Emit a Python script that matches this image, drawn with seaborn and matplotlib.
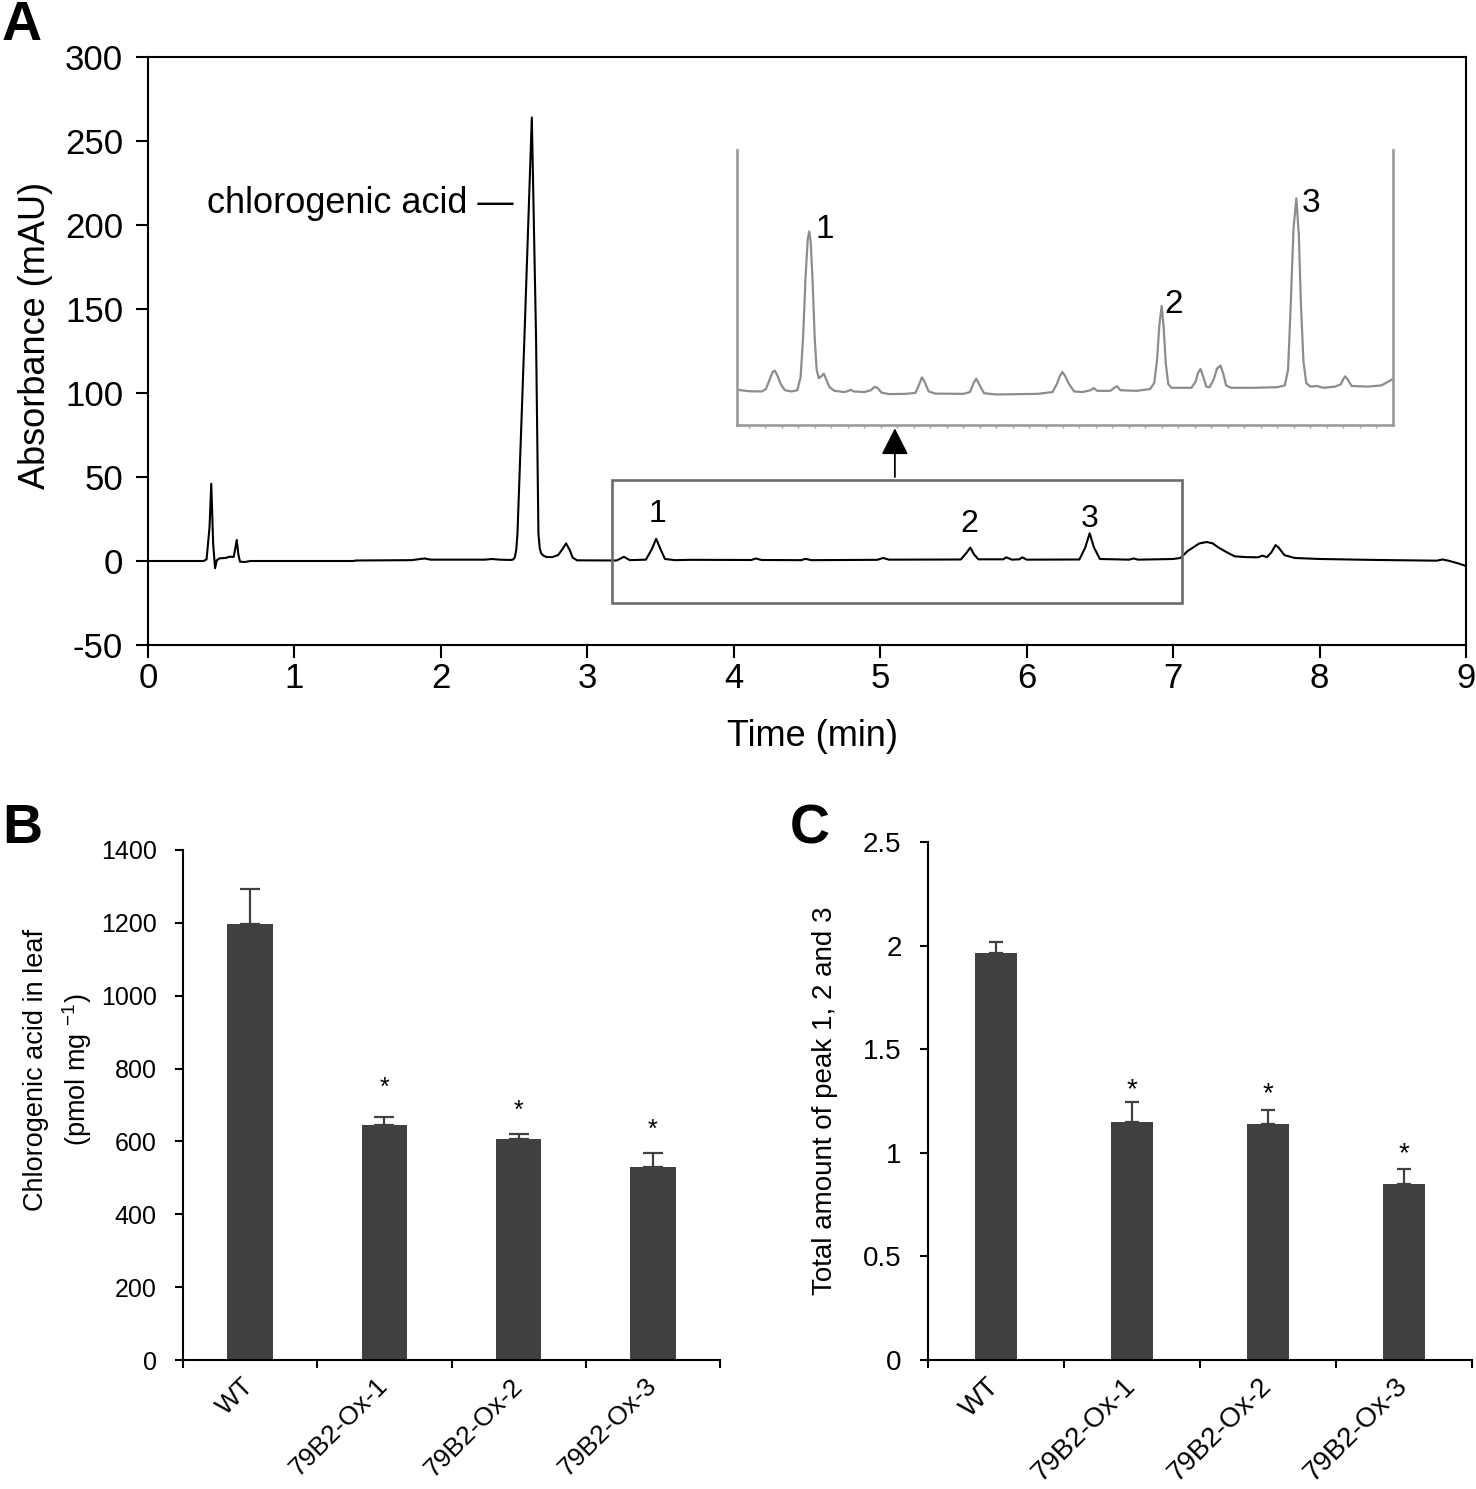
import numpy as np
import matplotlib
matplotlib.use("Agg")
import matplotlib.pyplot as plt
import seaborn as sns
from matplotlib.patches import Rectangle
from matplotlib.ticker import FuncFormatter

# ---------------- data ----------------
# Panel A: HPLC chromatogram (min, mAU)
chrom_time = [0.00, 0.38, 0.40, 0.42, 0.432, 0.445, 0.458, 0.47, 0.49, 0.53, 0.56, 0.585,
              0.597, 0.606, 0.617, 0.628, 0.66, 0.70, 1.40, 1.42, 1.80, 1.86, 1.89, 1.93,
              2.30, 2.35, 2.40, 2.48, 2.495, 2.505, 2.515, 2.523, 2.570, 2.621, 2.650,
              2.666, 2.675, 2.685, 2.70, 2.72, 2.76, 2.80, 2.83, 2.855, 2.88, 2.90, 2.93,
              3.20, 3.25, 3.29, 3.40, 3.44, 3.47, 3.50, 3.53, 3.60, 3.70, 4.12, 4.15, 4.19,
              4.46, 4.49, 4.53, 4.98, 5.02, 5.06, 5.55, 5.59, 5.615, 5.64, 5.67, 5.84, 5.86,
              5.90, 5.95, 5.97, 6.00, 6.36, 6.40, 6.43, 6.46, 6.50, 6.70, 6.73, 6.76, 7.00,
              7.05, 7.10, 7.18, 7.23, 7.27, 7.31, 7.36, 7.42, 7.50, 7.58, 7.61, 7.64,
              7.67, 7.70, 7.72, 7.76, 7.83, 8.00, 8.40, 8.80, 8.84, 8.88, 8.95, 9.00]
chrom_abs = [0.0, 0.0, 1.0, 20.0, 46.0, 10.0, -4.3, 0.5, 1.6, 1.8, 2.6, 2.4,
             8.0, 12.5, 4.0, -0.4, -0.6, 0.0, 0.0, 0.3, 0.5, 1.2, 1.5, 0.8,
             0.8, 1.2, 0.8, 0.6, 1.0, 2.2, 7.0, 16.5, 132.0, 264.0, 132.0,
             16.5, 7.5, 4.5, 3.2, 2.4, 2.3, 3.5, 7.0, 10.5, 6.5, 2.0, 0.4,
             0.3, 2.5, 0.5, 0.8, 7.0, 13.2, 7.0, 1.2, 0.5, 0.7, 0.6, 1.5, 0.6,
             0.5, 1.3, 0.5, 0.7, 1.8, 0.8, 0.9, 5.0, 8.0, 4.0, 1.0, 1.0, 2.2,
             0.8, 1.0, 2.2, 0.8, 0.9, 8.0, 16.5, 8.0, 1.2, 0.8, 1.5, 0.8, 1.2,
             1.8, 6.0, 10.5, 11.3, 10.5, 8.0, 5.5, 2.8, 2.3, 2.2, 3.2, 2.3,
             5.0, 9.5, 8.0, 3.5, 1.8, 1.2, 0.6, 0.2, 0.9, 0.2, -1.5, -3.0]

# Inset: magnified 3.0-7.0 min region (min, mAU)
inset_time = [3.030, 3.100, 3.180, 3.205, 3.225, 3.245, 3.259, 3.275, 3.295, 3.320, 3.360,
              3.395, 3.415, 3.430, 3.445, 3.458, 3.467, 3.476, 3.488, 3.500, 3.512, 3.525,
              3.540, 3.556, 3.570, 3.590, 3.620, 3.680, 3.705, 3.718, 3.735, 3.800, 3.840,
              3.862, 3.880, 3.905, 3.950, 4.050, 4.110, 4.130, 4.149, 4.165, 4.190, 4.230,
              4.400, 4.440, 4.462, 4.478, 4.495, 4.525, 4.600, 4.850, 4.940, 4.965, 4.985,
              4.999, 5.015, 5.040, 5.070, 5.120, 5.170, 5.188, 5.210, 5.290, 5.318, 5.331,
              5.350, 5.450, 5.530, 5.555, 5.572, 5.586, 5.600, 5.612, 5.625, 5.640, 5.660,
              5.780, 5.805, 5.822, 5.835, 5.850, 5.870, 5.890, 5.915, 5.935, 5.956, 5.972,
              5.990, 6.020, 6.150, 6.300, 6.345, 6.365, 6.382, 6.398, 6.415, 6.430, 6.442,
              6.458, 6.475, 6.500, 6.540, 6.580, 6.650, 6.685, 6.700, 6.711, 6.725, 6.750,
              6.850, 6.930, 6.970, 7.000]
inset_abs = [0.14, 0.02, 0.00, 0.2, 0.9, 1.6, 1.72, 1.3, 0.6, 0.1, 0.0,
             0.1, 1.2, 4.5, 9.5, 12.6, 13.25, 12.4, 9.0, 4.5, 1.8, 1.1,
             1.25, 1.47, 1.0, 0.35, 0.05, -0.05, 0.05, 0.14, 0.0, -0.05, 0.1,
             0.38, 0.3, -0.1, -0.22, -0.2, -0.12, 0.5, 1.17, 0.8, 0.0, -0.18,
             -0.2, -0.05, 0.7, 1.06, 0.6, -0.15, -0.25, -0.2, -0.05, 0.6, 1.3,
             1.61, 1.3, 0.6, 0.0, -0.05, 0.1, 0.28, 0.05, 0.05, 0.35, 0.42,
             0.1, 0.05, 0.2, 0.7, 2.6, 5.5, 7.08, 5.3, 2.3, 0.6, 0.3,
             0.3, 0.8, 1.6, 1.86, 1.3, 0.4, 0.35, 1.0, 1.9, 2.14, 1.5,
             0.5, 0.3, 0.3, 0.35, 0.5, 1.8, 7.5, 13.5, 16.0, 13.0, 7.5,
             2.5, 0.7, 0.4, 0.45, 0.3, 0.4, 0.6, 1.05, 1.25, 1.0, 0.45,
             0.4, 0.5, 0.8, 1.05]

peak_labels = ["1", "2", "3"]
peak_label_time = [3.477, 5.61, 6.43]
peak_label_abs = [28, 22, 25]
inset_label_time = [3.561, 5.673, 6.504]
inset_label_abs = [13.4, 7.2, 15.6]

# Panels B and C
lines = ["WT", "79B2-Ox-1", "79B2-Ox-2", "79B2-Ox-3"]
chl_mean = [1198, 644, 607, 531]
chl_err = [94, 24, 14, 36]
chl_star = [748, 683, 632]
peaks_mean = [1.962, 1.149, 1.138, 0.851]
peaks_err = [0.053, 0.098, 0.068, 0.070]
peaks_star = [1.302, 1.285, 0.994]

# ---------------- style ----------------
sns.set_theme(style="ticks")
plt.rcParams["font.family"] = ["Liberation Sans", "DejaVu Sans"]
plt.rcParams["mathtext.fontset"] = "custom"
plt.rcParams["mathtext.rm"] = "Liberation Sans"
plt.rcParams["mathtext.it"] = "Liberation Sans"
plt.rcParams["mathtext.default"] = "regular"
plt.rcParams["axes.unicode_minus"] = False
for k in ["text.color", "axes.labelcolor", "xtick.color", "ytick.color", "axes.edgecolor"]:
    plt.rcParams[k] = "black"

W, H = 1476, 1489
fig = plt.figure(figsize=(W / 100, H / 100), dpi=100)
fig.patch.set_facecolor("white")


def frac(left, top, right, bottom):
    return [left / W, 1 - bottom / H, (right - left) / W, (bottom - top) / H]


# ---------------- Panel A ----------------
axA = fig.add_axes(frac(148, 57, 1466, 645))
sns.lineplot(x=chrom_time, y=chrom_abs, ax=axA, color="black", lw=1.5,
             sort=False, estimator=None)
axA.set_xlim(0, 9)
axA.set_ylim(-50, 300)
axA.set_xticks(range(0, 10))
axA.set_yticks(range(-50, 301, 50))
for s in axA.spines.values():
    s.set_visible(True)
    s.set_linewidth(1.5)
    s.set_color("black")
axA.tick_params(axis="both", direction="out", length=9, width=1.5, labelsize=25)
axA.tick_params(axis="x", pad=3)
axA.tick_params(axis="y", pad=9)
axA.set_xlabel("Time (min)", fontsize=26)
axA.set_ylabel("Absorbance (mAU)", fontsize=26)
axA.xaxis.set_label_coords(0.504, -0.125)
axA.yaxis.set_label_coords(-0.072, 0.527)

axA.text(0.403, 213, "chlorogenic acid \u2014", fontsize=26, ha="left", va="center")
for lab, t, a in zip(peak_labels, peak_label_time, peak_label_abs):
    axA.text(t, a, lab, fontsize=23, ha="center", va="center")

axA.add_patch(Rectangle((3.17, -25), 3.89, 73.2, fill=False, ec="#6b6b6b", lw=1.9, zorder=3))
axA.annotate("", xy=(5.1, 79), xytext=(5.1, 50),
             arrowprops=dict(arrowstyle="-|>,head_length=0.55,head_width=0.28",
                             color="black", lw=1.3, mutation_scale=30,
                             shrinkA=0, shrinkB=0))

# Inset
axIn = fig.add_axes(frac(737, 150, 1393, 425))
axIn.set_facecolor("white")
sns.lineplot(x=inset_time, y=inset_abs, ax=axIn, color="#8c8c8c", lw=1.6,
             sort=False, estimator=None)
axIn.set_xlim(3.03, 7.0)
axIn.set_ylim(-2.78, 20)
axIn.spines["top"].set_visible(False)
for k in ["left", "right", "bottom"]:
    axIn.spines[k].set_color("#9a9a9a")
    axIn.spines[k].set_linewidth(1.9)
axIn.set_yticks([])
axIn.set_xticks(np.arange(3.1, 7.0, 0.1))
axIn.set_xticklabels([])
axIn.tick_params(axis="x", length=2.5, width=1, color="#9a9a9a", direction="out")
axIn.set_xlabel("")
axIn.set_ylabel("")
for lab, t, a in zip(peak_labels, inset_label_time, inset_label_abs):
    axIn.text(t, a, lab, fontsize=24, ha="center", va="center")


# ---------------- Bar panels ----------------
def bar_panel(ax, means, errs, stars, ylim, ystep, ylabel, ytick_fs, xtick_fs, star_fs,
              width, capsize, label_fs):
    sns.barplot(x=lines, y=means, ax=ax, color="#404040", saturation=1, width=width,
                errorbar=None, linewidth=0, zorder=2)
    ax.errorbar(x=np.arange(len(lines)), y=means, yerr=[np.zeros(len(lines)), errs],
                fmt="none", ecolor="#404040", elinewidth=1.6, capsize=capsize,
                capthick=1.6, zorder=3)
    for i, ys in enumerate(stars, start=1):
        ax.text(i, ys, "*", ha="center", va="center", fontsize=star_fs)
    ax.set_xlim(-0.5, len(lines) - 0.5)
    ax.set_ylim(*ylim)
    ax.set_yticks(np.arange(ylim[0], ylim[1] + ystep / 2, ystep))
    ax.yaxis.set_major_formatter(FuncFormatter(lambda v, p: f"{v:g}"))
    ax.set_xticks(np.arange(len(lines)))
    ax.set_xticks(np.arange(-0.5, len(lines), 1.0), minor=True)
    ax.tick_params(axis="x", which="major", length=0, pad=16, labelsize=xtick_fs)
    ax.tick_params(axis="x", which="minor", length=6, width=1.5, direction="out")
    ax.tick_params(axis="y", length=6, width=1.5, direction="out", pad=13,
                   labelsize=ytick_fs)
    for lab in ax.get_xticklabels():
        lab.set_rotation(45)
        lab.set_ha("right")
        lab.set_va("center")
        lab.set_rotation_mode("anchor")
    for k in ["top", "right"]:
        ax.spines[k].set_visible(False)
    for k in ["left", "bottom"]:
        ax.spines[k].set_linewidth(1.5)
        ax.spines[k].set_color("black")
    ax.set_xlabel("")
    ax.set_ylabel(ylabel, fontsize=label_fs, linespacing=1.45)


axB = fig.add_axes(frac(183, 850, 720, 1360))
bar_panel(axB, chl_mean, chl_err, chl_star, (0, 1400), 200,
          "Chlorogenic acid in leaf\n(pmol mg $^{-1}$)", 18, 19, 18, 0.34, 7, 19.5)
axB.yaxis.set_label_coords(-0.165, 0.569)

axC = fig.add_axes(frac(928, 842, 1472, 1360))
bar_panel(axC, peaks_mean, peaks_err, peaks_star, (0, 2.5), 0.5,
          "Total amount of peak 1, 2 and 3", 20, 20, 20, 0.31, 5, 20)
axC.yaxis.set_label_coords(-0.165, 0.5)

# Panel letters
fig.text(2 / W, 1 - 40 / H, "A", fontsize=40, fontweight="bold", va="baseline", ha="left")
fig.text(2 / W, 1 - 843 / H, "B", fontsize=40, fontweight="bold", va="baseline", ha="left")
fig.text(790 / W, 1 - 843 / H, "C", fontsize=40, fontweight="bold", va="baseline", ha="left")

fig.savefig("out.png", dpi=100, facecolor="white")
